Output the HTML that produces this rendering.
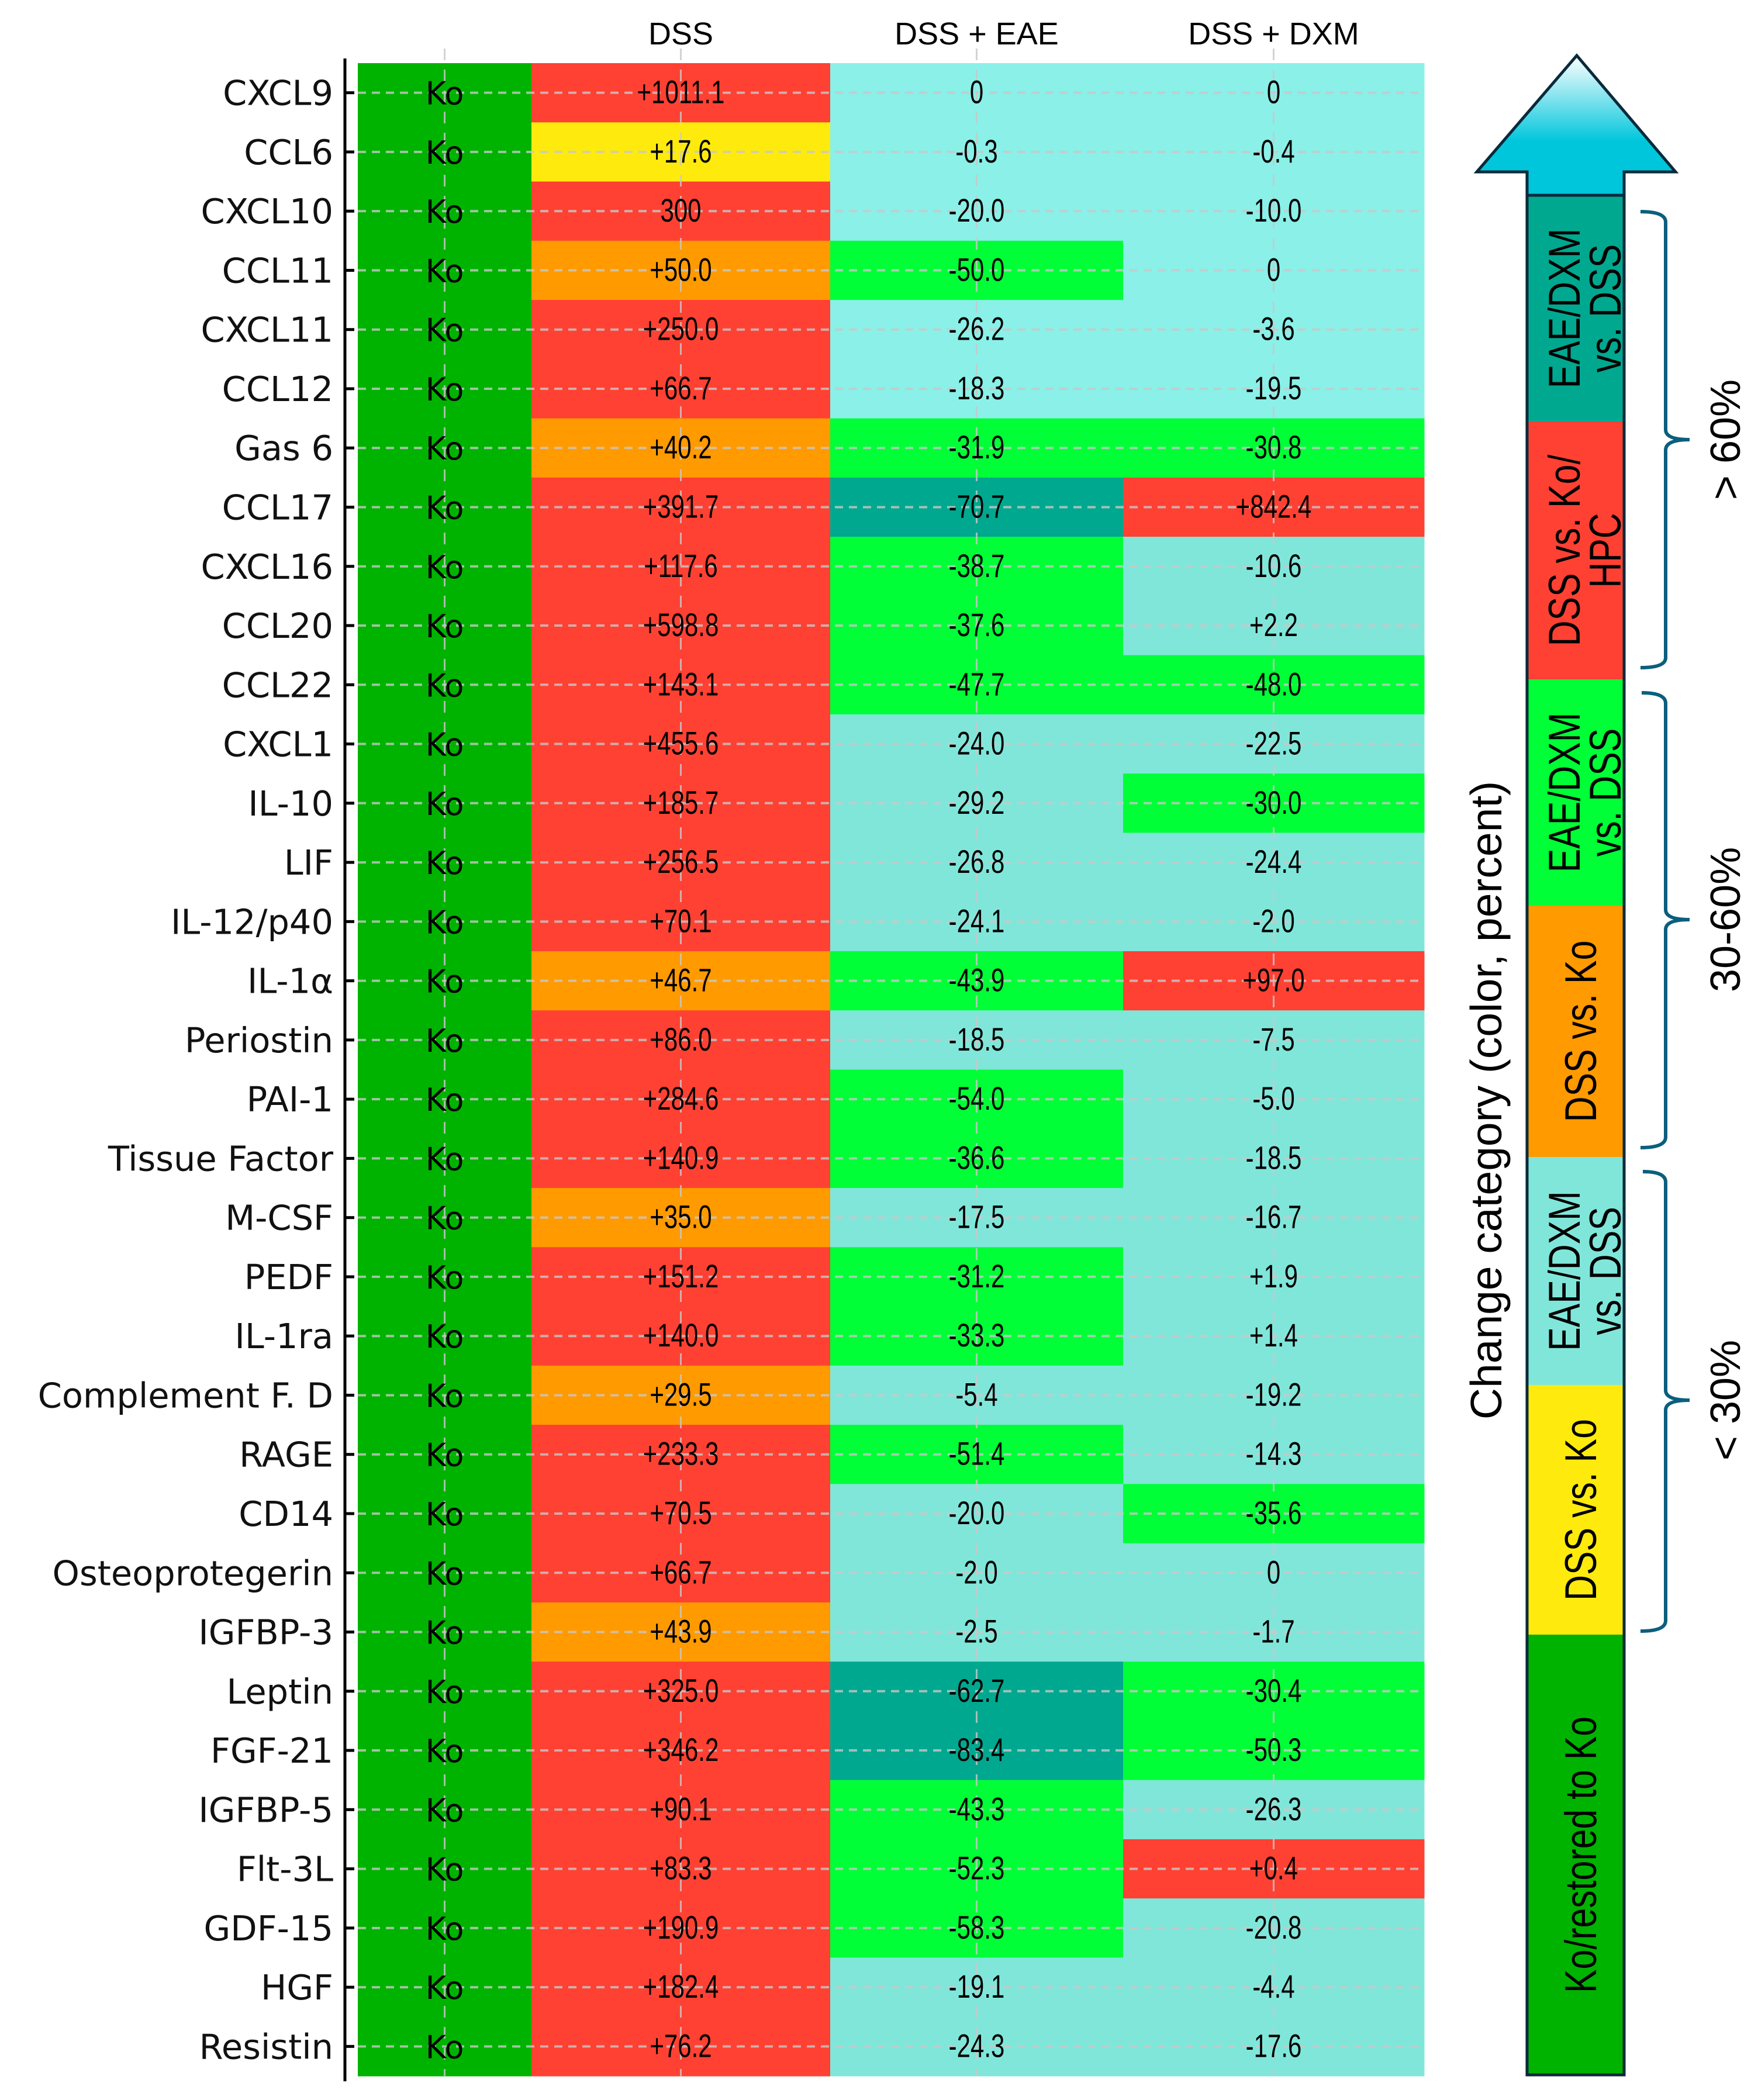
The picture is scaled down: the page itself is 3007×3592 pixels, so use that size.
<!DOCTYPE html>
<html><head><meta charset="utf-8"><style>
html,body{margin:0;padding:0;background:#fff;}
svg{display:block;font-family:"Liberation Sans",sans-serif;}
</style></head><body>
<svg id="chart" width="3007" height="3592" viewBox="0 0 3007 3592" xmlns="http://www.w3.org/2000/svg">
<defs>
<linearGradient id="ag" x1="0" y1="0" x2="0" y2="1">
<stop offset="0" stop-color="#ffffff"/><stop offset="0.6" stop-color="#00c6dc"/><stop offset="1" stop-color="#00c6dc"/>
</linearGradient>
</defs>
<g id="heat"></g>
<g id="legend">
  <path d="M2697 95 L2866 294 L2778 294 L2778 340 L2612 340 L2612 294 L2526 294 Z" fill="url(#ag)" stroke="#0a2a3a" stroke-width="5" stroke-linejoin="miter"/>
  <g id="segs"></g>
  <rect x="2612" y="334" width="166" height="3215" fill="none" stroke="#0a2a3a" stroke-width="5"/>
  <text transform="translate(2568,1882) rotate(-90)" text-anchor="middle" font-size="75">Change category (color, percent)</text>
  <g fill="none" stroke="#0b5f7d" stroke-width="6">
    <path d="M2806 362 Q2849 362 2849 380 L2849 735 Q2849 752 2890 752 Q2849 752 2849 770 L2849 1125 Q2849 1142 2806 1142"/>
    <path d="M2808 1185 Q2849 1185 2849 1203 L2849 1556 Q2849 1573 2890 1573 Q2849 1573 2849 1590 L2849 1945 Q2849 1963 2806 1963"/>
    <path d="M2810 2004 Q2849 2004 2849 2022 L2849 2378 Q2849 2395 2890 2395 Q2849 2395 2849 2412 L2849 2772 Q2849 2790 2806 2790"/>
  </g>
  <text transform="translate(2976,752) rotate(-90)" text-anchor="middle" font-size="72">&gt; 60%</text>
  <text transform="translate(2976,1573) rotate(-90)" text-anchor="middle" font-size="72">30-60%</text>
  <text transform="translate(2976,2395) rotate(-90)" text-anchor="middle" font-size="72">&lt; 30%</text>
</g>
</svg>
<script>
const genes=["CXCL9","CCL6","CXCL10","CCL11","CXCL11","CCL12","Gas 6","CCL17","CXCL16","CCL20","CCL22","CXCL1","IL-10","LIF","IL-12/p40","IL-1α","Periostin","PAI-1","Tissue Factor","M-CSF","PEDF","IL-1ra","Complement F. D","RAGE","CD14","Osteoprotegerin","IGFBP-3","Leptin","FGF-21","IGFBP-5","Flt-3L","GDF-15","HGF","Resistin"];
const columns=["","DSS","DSS + EAE","DSS + DXM"];
const dssVals=["+1011.1","+17.6","300","+50.0","+250.0","+66.7","+40.2","+391.7","+117.6","+598.8","+143.1","+455.6","+185.7","+256.5","+70.1","+46.7","+86.0","+284.6","+140.9","+35.0","+151.2","+140.0","+29.5","+233.3","+70.5","+66.7","+43.9","+325.0","+346.2","+90.1","+83.3","+190.9","+182.4","+76.2"];
const dssCat=["R","Y","R","O","R","R","O","R","R","R","R","R","R","R","R","O","R","R","R","O","R","R","O","R","R","R","O","R","R","R","R","R","R","R"];
const eaeVals=["0","-0.3","-20.0","-50.0","-26.2","-18.3","-31.9","-70.7","-38.7","-37.6","-47.7","-24.0","-29.2","-26.8","-24.1","-43.9","-18.5","-54.0","-36.6","-17.5","-31.2","-33.3","-5.4","-51.4","-20.0","-2.0","-2.5","-62.7","-83.4","-43.3","-52.3","-58.3","-19.1","-24.3"];
const eaeCat=["C","C","C","G","C","C","G","D","G","G","G","T","T","T","T","G","T","G","G","T","G","G","T","G","T","T","T","D","D","G","G","G","T","T"];
const dxmVals=["0","-0.4","-10.0","0","-3.6","-19.5","-30.8","+842.4","-10.6","+2.2","-48.0","-22.5","-30.0","-24.4","-2.0","+97.0","-7.5","-5.0","-18.5","-16.7","+1.9","+1.4","-19.2","-14.3","-35.6","0","-1.7","-30.4","-50.3","-26.3","+0.4","-20.8","-4.4","-17.6"];
const dxmCat=["C","C","C","C","C","C","G","R","T","T","G","T","G","T","T","R","T","T","T","T","T","T","T","T","G","T","T","G","G","T","R","T","T","T"];
const legendCats=["D","R","G","O","T","Y","K"];
const legendLabels=[["EAE/DXM","vs. DSS"],["DSS vs. Ko/","HPC"],["EAE/DXM","vs. DSS"],["DSS vs. Ko"],["EAE/DXM","vs. DSS"],["DSS vs. Ko"],["Ko/restored to Ko"]];
const legendBounds=[334,721,1162,1549,1979,2369,2796,3549];

const COL={R:"#ff4133",Y:"#ffea0d",O:"#ff9a00",G:"#00ff36",C:"#8af0e8",T:"#80e6da",D:"#00a88f",K:"#00b300"};
const NS="http://www.w3.org/2000/svg";
const top0=108,bottom0=3551,rowH=(bottom0-top0)/genes.length;
const colX=[612,909,1420,1921,2436];
const yOf=i=>top0+rowH*i;
const heat=document.getElementById('heat');
function mk(tag,attrs,parent){const e=document.createElementNS(NS,tag);for(const k in attrs)e.setAttribute(k,attrs[k]);parent.appendChild(e);return e;}
const cats=[null,dssCat,eaeCat,dxmCat];
const vals=[null,dssVals,eaeVals,dxmVals];
for(let i=0;i<genes.length;i++){
  for(let c=0;c<4;c++){
    const cat=c===0?"K":cats[c][i];
    const r=mk('rect',{x:colX[c],y:yOf(i),width:colX[c+1]-colX[c]+0.5,height:rowH+0.5,fill:COL[cat]},heat);
    
    
  }
}
const grid=mk('g',{stroke:"#c8c8c8","stroke-width":4,"stroke-dasharray":"14 10",fill:"none","stroke-opacity":0.8},heat);


for(let i=0;i<genes.length;i++){const cy=yOf(i)+rowH/2;mk('line',{x1:colX[0],x2:colX[4],y1:cy,y2:cy},grid);}
for(let c=0;c<4;c++){const cx=(colX[c]+colX[c+1])/2;mk('line',{x1:cx,x2:cx,y1:top0-25,y2:bottom0,"stroke-width":3,"stroke-dasharray":"20 16"},grid);}
const ax=mk('line',{x1:590,x2:590,y1:100,y2:3560,stroke:"#000","stroke-width":5},heat);


for(let i=0;i<genes.length;i++){
  const cy=yOf(i)+rowH/2;
  mk('line',{x1:590,x2:606,y1:cy,y2:cy,stroke:"#000","stroke-width":5},heat);
  const t=mk('text',{x:570,y:cy+21,"text-anchor":"end","font-size":59,"font-family":"DejaVu Sans, sans-serif",fill:"#111"},heat);
  t.textContent=genes[i];
  
  
  const k=mk('text',{x:(colX[0]+colX[1])/2,y:cy+20,"text-anchor":"middle","font-size":54,"font-family":"DejaVu Sans, sans-serif",fill:"#000"},heat);
  k.textContent="Ko";
  
  
  for(let c=1;c<4;c++){
    const cx=(colX[c]+colX[c+1])/2;
    const v=mk('text',{transform:`translate(${cx},${cy+18}) scale(0.75,1)`,"text-anchor":"middle","font-size":56,fill:"#000"},heat);
    v.textContent=vals[c][i];
    
    
  }
}
for(let c=1;c<4;c++){
  const h=mk('text',{x:(colX[c]+colX[c+1])/2,y:76,"text-anchor":"middle","font-size":54,fill:"#000"},heat);
  h.textContent=columns[c];
  
  
}
const segs=document.getElementById('segs');
for(let s=0;s<legendCats.length;s++){
  const y0=legendBounds[s],y1=legendBounds[s+1];
  const r=mk('rect',{x:2612,y:y0,width:166,height:y1-y0,fill:COL[legendCats[s]]},segs);
  
  
  const lines=legendLabels[s],cy=(y0+y1)/2,n=lines.length;
  lines.forEach((ln,j)=>{
    const cx=n===1?2730:2702+j*70;
    const t=mk('text',{transform:`translate(${cx},${cy}) rotate(-90) scale(0.8,1)`,"text-anchor":"middle","font-size":76,fill:"#000"},segs);
    t.textContent=ln;
    
    
  });
}
</script>
</body></html>
